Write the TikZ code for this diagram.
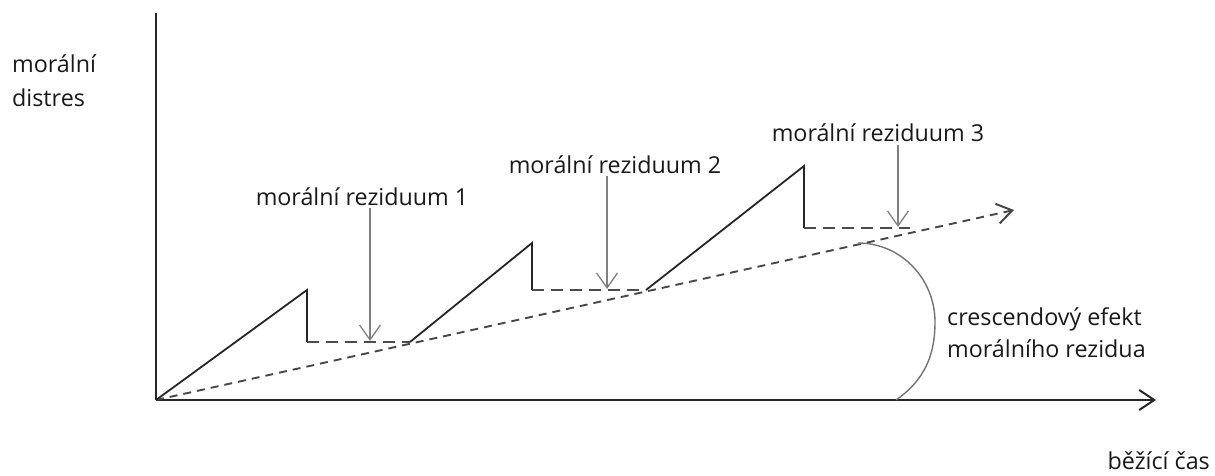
\documentclass[tikz,border=0pt]{standalone}
\usepackage{fontspec}
\setmainfont{Open Sans}
\usetikzlibrary{arrows.meta}
\begin{document}
\begin{tikzpicture}[x=1pt,y=-1pt,
  axis/.style={line width=2.4pt,black!85},
  saw/.style={line width=1.8pt,black!85},
  resid/.style={line width=1.7pt,black!70,dash pattern=on 12pt off 7pt},
  trend/.style={line width=1.9pt,black!72,dash pattern=on 8pt off 6pt},
  pointer/.style={line width=1.3pt,black!50,-{Straight Barb[length=15pt,width=21pt,line width=1.3pt]}},
  lbl/.style={font=\fontsize{23.3}{28}\selectfont,text=black!90,inner sep=0pt},
  open/.style={-{Straight Barb[length=15pt,width=20pt,line width=2pt]}}]
\useasboundingbox (0,0) rectangle (1215,476);
% points
\coordinate (O) at (156,400);
\coordinate (Ytop) at (156,13);
\coordinate (Xend) at (1156,400);
\coordinate (P1) at (307,290);
\coordinate (Q1) at (307,342);
\coordinate (R1) at (410,342);
\coordinate (P2) at (532,243);
\coordinate (Q2) at (532,290);
\coordinate (R2) at (646,290);
\coordinate (P3) at (804,166);
\coordinate (Q3) at (804,228);
\coordinate (R3) at (910,228);
\coordinate (Tend) at (1014,210);
\coordinate (A1) at (370,341);
\coordinate (A2) at (607,289);
\coordinate (A3) at (898,227);
\coordinate (Ctop) at (858,243);
\coordinate (Cbot) at (896,400);
% axes
\draw[axis] (Ytop) -- (O);
\draw[axis,open] (O) -- (Xend);
% trend
\draw[trend,open] (O) -- (Tend);
% sawtooth
\draw[saw] (O) -- (P1) -- (Q1);
\draw[resid] (Q1) -- (R1);
\draw[saw] (R1) -- (P2) -- (Q2);
\draw[resid] (Q2) -- (R2);
\draw[saw] (R2) -- (P3) -- (Q3);
\draw[resid] (Q3) -- (R3);
% labels
\node[lbl,anchor=base west] (yl) at (12,73) {morální};
\node[lbl,anchor=base west] (yl2) at (12,107) {distres};
\node[lbl,anchor=base] (L1) at (362,205) {morální reziduum 1};
\node[lbl,anchor=base] (L2) at (615,173) {morální reziduum 2};
\node[lbl,anchor=base] (L3) at (878,142) {morální reziduum 3};
\node[lbl,anchor=base west] (C1) at (947,325) {crescendový efekt};
\node[lbl,anchor=base west] (C2) at (947,357) {morálního rezidua};
\node[lbl,anchor=base east] (xl) at (1210,469) {běžící čas};
% pointers
\draw[pointer] (L1.base -| A1) ++(0,3) -- (A1);
\draw[pointer] (L2.base -| A2) ++(0,3) -- (A2);
\draw[pointer] (L3.base -| A3) ++(0,3) -- (A3);
% crescendo arc
\draw[line width=1.4pt,black!55] (Ctop) to[out=0,in=90] (935,322) to[out=-90,in=35] (Cbot);
\end{tikzpicture}
\end{document}
